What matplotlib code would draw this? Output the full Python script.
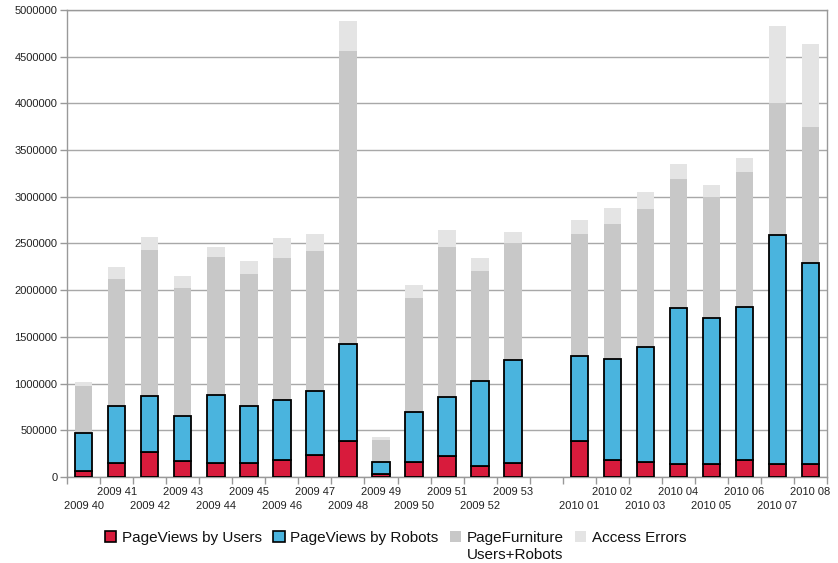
import matplotlib
matplotlib.use("Agg")
import matplotlib.pyplot as plt
from matplotlib.patches import Patch
from matplotlib.ticker import FixedLocator, NullFormatter
import numpy as np

plt.rcParams['font.family'] = ['Liberation Sans', 'DejaVu Sans']

weeks = ["2009 40", "2009 41", "2009 42", "2009 43", "2009 44", "2009 45", "2009 46",
         "2009 47", "2009 48", "2009 49", "2009 50", "2009 51", "2009 52", "2009 53",
         "",
         "2010 01", "2010 02", "2010 03", "2010 04", "2010 05", "2010 06", "2010 07", "2010 08"]

nan = float("nan")
# cumulative tops (nan for the empty gap slot)
users_top = [64e3, 150e3, 271e3, 168e3, 150e3, 150e3, 182e3, 232e3, 386e3, 36e3, 164e3, 221e3, 118e3, 150e3,
             nan, 386e3, 179e3, 164e3, 143e3, 143e3, 179e3, 143e3, 143e3]
robots_top = [468e3, 760e3, 868e3, 657e3, 882e3, 760e3, 821e3, 925e3, 1421e3, 157e3, 700e3, 853e3, 1028e3, 1250e3,
              nan, 1296e3, 1264e3, 1386e3, 1810e3, 1703e3, 1821e3, 2596e3, 2296e3]
furniture_top = [971e3, 2118e3, 2430e3, 2018e3, 2350e3, 2168e3, 2346e3, 2420e3, 4564e3, 400e3, 1914e3, 2465e3, 2207e3, 2510e3,
                 nan, 2607e3, 2707e3, 2865e3, 3190e3, 2993e3, 3268e3, 4007e3, 3750e3]
errors_top = [1018e3, 2253e3, 2565e3, 2150e3, 2460e3, 2310e3, 2560e3, 2597e3, 4886e3, 429e3, 2060e3, 2640e3, 2340e3, 2620e3,
              nan, 2750e3, 2875e3, 3047e3, 3347e3, 3125e3, 3418e3, 4829e3, 4636e3]

series_labels = ["PageViews by Users", "PageViews by Robots", "PageFurniture", "Access Errors"]
furniture_label_line2 = "Users+Robots"
colors = ["#d81b3c", "#4ab4de", "#c8c8c8", "#e4e4e4"]

users = np.array(users_top)
robots = np.array(robots_top) - users
furniture = np.array(furniture_top) - np.array(robots_top)
errors = np.array(errors_top) - np.array(furniture_top)

fig = plt.figure(figsize=(8.38, 5.63), dpi=100)
ax = fig.add_axes([0.080, 0.153, 0.907, 0.829])

x = np.arange(len(weeks))
w = 0.53
ax.bar(x, users, w, color=colors[0], edgecolor="black", linewidth=1.3, zorder=3)
ax.bar(x, robots, w, bottom=users, color=colors[1], edgecolor="black", linewidth=1.3, zorder=3)
ax.bar(x, furniture, w, bottom=np.array(robots_top), color=colors[2], linewidth=0, zorder=2)
ax.bar(x, errors, w, bottom=np.array(furniture_top), color=colors[3], linewidth=0, zorder=2)

ax.set_xlim(-0.5, len(weeks) - 0.5)
ax.set_ylim(0, 5000000)
yt = np.arange(0, 5000001, 500000)
ax.set_yticks(yt)
ax.set_yticklabels([str(int(v)) for v in yt])
ax.yaxis.grid(True, color="#a8a8a8", linewidth=1.0, zorder=0)
ax.set_axisbelow(True)

# x labels staggered in two rows
ax.set_xticks(x)
ax.set_xticklabels([])
ax.tick_params(axis='x', which='major', length=0)
for i, lbl in enumerate(weeks):
    if not lbl:
        continue
    idx = i if i < 14 else i - 1
    lower = (idx % 2 == 0)
    ax.text(i, -0.062 if lower else -0.033, lbl, transform=ax.get_xaxis_transform(),
            ha="center", va="center", fontsize=8, color="#222222")
ax.xaxis.set_minor_locator(FixedLocator(np.arange(-0.5, len(weeks), 1.0)))
ax.xaxis.set_minor_formatter(NullFormatter())
ax.tick_params(axis='x', which='minor', length=5, color="#999999", width=1)
ax.tick_params(axis='y', length=5, color="#999999", width=1, labelsize=8, labelcolor="#222222", pad=2)

for s in ["left", "bottom", "top", "right"]:
    ax.spines[s].set_color("#999999")
    ax.spines[s].set_linewidth(1.0)

handles = [Patch(facecolor=colors[0], edgecolor="black", linewidth=1.2),
           Patch(facecolor=colors[1], edgecolor="black", linewidth=1.2),
           Patch(facecolor=colors[2], edgecolor="none"),
           Patch(facecolor=colors[3], edgecolor="none")]
leg = fig.legend(handles, series_labels, loc="center", bbox_to_anchor=(0.472, 1 - 538 / 563),
                 ncol=4, frameon=False, fontsize=11, handlelength=0.75, handleheight=0.75,
                 handletextpad=0.35, columnspacing=0.75, borderaxespad=0, borderpad=0)
for t in leg.get_texts():
    t.set_color("#111111")

fig.canvas.draw()
t = leg.get_texts()[2]
bb = t.get_window_extent()
inv = fig.transFigure.inverted()
x0, y0 = inv.transform((bb.x0, bb.y0))
fig.text(x0, y0 - 3 / 563, furniture_label_line2, ha="left", va="top", fontsize=11, color="#111111")

fig.savefig("out.png", dpi=100)
